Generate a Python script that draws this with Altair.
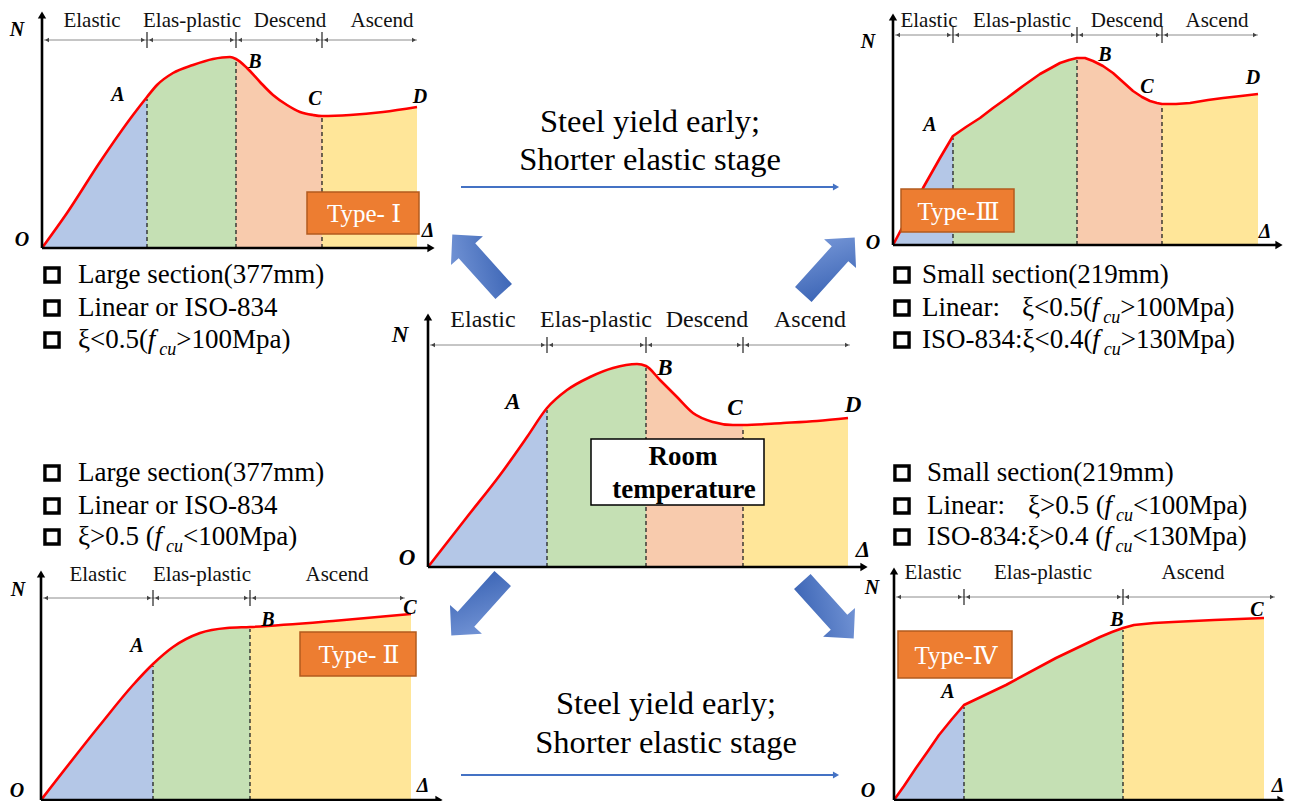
import altair as alt
import pandas as pd

FONT = "'Liberation Serif', 'Times New Roman', Times, 'DejaVu Serif', serif"
STAGES = ["Elastic", "Elas-plastic", "Descend", "Ascend"]
STAGE_COLORS = ["#B4C7E7", "#C5E0B4", "#F8CBAD", "#FFE699"]

# ---------------- values ----------------
# load–displacement curves in panel-local units (displacement to the right, load upward)
typeI_disp = [0, 25, 58, 91, 105, 115, 131, 151, 171, 188, 194, 205, 218, 231, 245, 258, 271, 280, 308, 341, 375]
typeI_load = [0, 35, 86, 133, 151, 163, 175, 183, 189, 191, 189, 180, 166, 153, 143, 136, 133, 132, 133, 136, 141]
typeI_bounds = [0, 105, 194, 280, 375]
typeI_stages = ["Elastic", "Elas-plastic", "Descend", "Ascend"]

typeIII_disp = [0, 9, 20, 30, 47, 60, 73, 87, 100, 114, 130, 147, 158, 167, 176, 184, 192, 200, 210, 220, 230,
                240, 249, 257, 264, 269, 283, 297, 315, 330, 348, 365]
typeIII_load = [0, 17, 38, 57, 87, 109, 118, 127, 137, 147, 159, 171, 177, 182, 185, 187, 187, 184, 179, 172, 163,
                154, 148, 144, 142, 141, 141, 142, 145, 147, 149, 151]
typeIII_bounds = [0, 60, 184, 269, 365]
typeIII_stages = ["Elastic", "Elas-plastic", "Descend", "Ascend"]

room_disp = [0, 39, 72, 99, 119, 139, 162, 185, 209, 218, 232, 249, 265, 285, 305, 315, 355, 389, 420]
room_load = [0, 50, 92, 130, 159, 177, 190, 199, 203, 201, 187, 170, 154, 145, 142, 142, 144, 146, 149]
room_bounds = [0, 119, 218, 315, 420]
room_stages = ["Elastic", "Elas-plastic", "Descend", "Ascend"]

typeII_disp = [0, 59, 92, 112, 132, 159, 186, 209, 292, 370]
typeII_load = [0, 75, 115, 136, 153, 167, 172, 173, 179, 186]
typeII_bounds = [0, 112, 209, 370]
typeII_stages = ["Elastic", "Elas-plastic", "Ascend"]

typeIV_disp = [0, 10, 22, 34, 45, 58, 70, 112, 162, 206, 218, 229, 240, 260, 279, 320, 370]
typeIV_load = [0, 14, 32, 49, 65, 81, 95, 115, 142, 163, 168, 172, 175, 177, 178, 180, 182]
typeIV_bounds = [0, 70, 229, 370]
typeIV_stages = ["Elastic", "Elas-plastic", "Ascend"]

point_names4 = ["N", "O", "Δ", "A", "B", "C", "D"]
point_names3 = ["N", "O", "Δ", "A", "B", "C"]

type_labels = ["Type- Ⅰ", "Type-Ⅲ", "Type- Ⅱ", "Type-Ⅳ"]
room_label = ["Room", "temperature"]
transition_text = ["Steel yield early;", "Shorter elastic stage"]

# list lines: segments (text, kind) with kind n=normal, i=italic, s=italic subscript, t=tab jump
list_large_a = [[("Large section(377mm)", "n")], [("Linear or ISO-834", "n")],
                [("ξ<0.5(", "n"), ("f", "i"), ("cu", "s"), (">100Mpa)", "n")]]
list_large_b = [[("Large section(377mm)", "n")], [("Linear or ISO-834", "n")],
                [("ξ>0.5 (", "n"), ("f", "i"), ("cu", "s"), ("<100Mpa)", "n")]]
list_small_a = [[("Small section(219mm)", "n")],
                [("Linear:", "n"), ("ξ<0.5(", "t"), ("f", "i"), ("cu", "s"), (">100Mpa)", "n")],
                [("ISO-834:ξ<0.4(", "n"), ("f", "i"), ("cu", "s"), (">130Mpa)", "n")]]
list_small_b = [[("Small section(219mm)", "n")],
                [("Linear:", "n"), ("ξ>0.5 (", "t"), ("f", "i"), ("cu", "s"), ("<100Mpa)", "n")],
                [("ISO-834:ξ>0.4 (", "n"), ("f", "i"), ("cu", "s"), ("<130Mpa)", "n")]]

# ---------------- layout (page pixels) ----------------
PANELS = [
    dict(name="I", disp=typeI_disp, load=typeI_load, bounds=typeI_bounds, stages=typeI_stages,
         origin=(42, 248), top=11, right=435, bar_y=40, bar_end=417, interp="monotone",
         label_x=[92, 192, 290, 382], label_y=21, fs=21, pfs=20, pnames=point_names4,
         pxy=[(17, 30), (22, 240), (428, 231), (118, 95), (255, 62), (315, 99), (420, 97)]),
    dict(name="III", disp=typeIII_disp, load=typeIII_load, bounds=typeIII_bounds, stages=typeIII_stages,
         origin=(893, 245), top=13, right=1283, bar_y=35, bar_end=1258, interp="linear",
         label_x=[929, 1022, 1127, 1217], label_y=21, fs=21, pfs=20, pnames=point_names4,
         pxy=[(868, 42), (873, 243), (1265, 232), (930, 125), (1105, 55), (1147, 87), (1253, 78)]),
    dict(name="R", disp=room_disp, load=room_load, bounds=room_bounds, stages=room_stages,
         origin=(428, 567), top=313, right=868, bar_y=345, bar_end=850, interp="monotone",
         label_x=[483, 596, 707, 810], label_y=320, fs=24, pfs=23, pnames=point_names4,
         pxy=[(400, 335), (407, 558), (863, 550), (513, 402), (665, 368), (735, 408), (853, 405)]),
    dict(name="II", disp=typeII_disp, load=typeII_load, bounds=typeII_bounds, stages=typeII_stages,
         origin=(41, 800), top=570, right=443, bar_y=598, bar_end=405, interp="monotone",
         label_x=[98, 202, 337], label_y=575, fs=21, pfs=20, pnames=point_names3,
         pxy=[(18, 590), (17, 791), (423, 786), (137, 646), (268, 620), (410, 608)]),
    dict(name="IV", disp=typeIV_disp, load=typeIV_load, bounds=typeIV_bounds, stages=typeIV_stages,
         origin=(894, 800), top=567, right=1285, bar_y=597, bar_end=1275, interp="linear",
         label_x=[933, 1043, 1193], label_y=573, fs=21, pfs=20, pnames=point_names3,
         pxy=[(872, 588), (868, 791), (1278, 786), (948, 692), (1117, 620), (1257, 610)]),
]

TYPE_BOXES = [(307, 419, 192, 234), (901, 1014, 189, 232), (300, 416, 632, 676), (898, 1012, 631, 678)]
ROOM_BOX = (591, 764, 439, 505)
ROOM_TEXT_XY = [(683, 457), (684, 490)]

# list blocks: (lines, text x, check-box x, baselines, tab x for 2nd line)
LIST_BLOCKS = [
    (list_large_a, 78, 52, [283, 316, 348], None),
    (list_large_b, 78, 52, [481, 514, 545], None),
    (list_small_a, 922, 902, [283, 316, 348], 1022),
    (list_small_b, 927, 902, [481, 514, 545], 1028),
]
LIST_FS, SUB_FS = 27, 18

# approximate Times advance widths (1/1000 em) used to place text segments
ADV = {' ': 250, '(': 333, ')': 333, '.': 250, ':': 278, '<': 564, '>': 564, '-': 333, 'ξ': 440,
       'M': 889, 'p': 500, 'a': 444, 'I': 333, 'S': 556, 'O': 722, 'L': 611, 'i': 278, 'n': 500,
       'e': 444, 'r': 333, 'f': 278, 'c': 444, 'u': 500, 'o': 500}


def adv(s, fs):
    return sum(ADV.get(ch, 500) for ch in s) * fs / 1000.0


TRANS = [dict(cx=650, y1=132, y2=170, ly=187), dict(cx=666, y1=714, y2=753, ly=775)]
TRANS_X = (461, 840)

# block arrows: centre, angle (clockwise from up)
BLOCKS = [(478, 263, 318), (829, 266, 42), (477, 607, 222), (828, 610, 138)]

# ---------------- build tables ----------------
curve_rows, area_rows, dash_rows, axis_rows, head_rows = [], [], [], [], []
bar_rows, tick_rows, small_head_rows, stage_lab_rows, pt_rows = [], [], [], [], []
for p in PANELS:
    ox, oy = p["origin"]
    for i, (d, n) in enumerate(zip(p["disp"], p["load"])):
        curve_rows.append(dict(panel=p["name"], interp=p["interp"], i=i, x=ox + d, y=oy - n))
    b = p["bounds"]
    for k, st in enumerate(p["stages"]):
        for d, n in zip(p["disp"], p["load"]):
            if b[k] <= d <= b[k + 1]:
                area_rows.append(dict(key=f'{p["name"]}{k}', interp=p["interp"], stage=st,
                                      x=ox + d, y=oy - n, y0=oy))
    for bb in b[1:-1]:
        n = p["load"][p["disp"].index(bb)]
        dash_rows.append(dict(x=ox + bb, y=oy, x2=ox + bb, y2=oy - n + 2))
    axis_rows.append(dict(x=ox, y=oy, x2=ox, y2=p["top"] + 4))
    axis_rows.append(dict(x=ox, y=oy, x2=p["right"] - 4, y2=oy))
    head_rows.append(dict(x=ox, y=p["top"] + 4, shape="triangle-up"))
    head_rows.append(dict(x=p["right"] - 4, y=oy, shape="triangle-right"))
    by = p["bar_y"]
    bar_rows.append(dict(x=ox + 2, y=by, x2=p["bar_end"], y2=by))
    small_head_rows.append(dict(x=ox + 5, y=by, shape="triangle-left"))
    small_head_rows.append(dict(x=p["bar_end"] - 3, y=by, shape="triangle-right"))
    for bb in b[1:-1]:
        t = ox + bb
        tick_rows.append(dict(x=t, y=by - 8, x2=t, y2=by + 8))
        small_head_rows.append(dict(x=t - 4, y=by, shape="triangle-right"))
        small_head_rows.append(dict(x=t + 4, y=by, shape="triangle-left"))
    for st, lx in zip(p["stages"], p["label_x"]):
        stage_lab_rows.append(dict(t=st, x=lx, y=p["label_y"], fs=p["fs"]))
    for nm, (px, py) in zip(p["pnames"], p["pxy"]):
        pt_rows.append(dict(t=nm, x=px, y=py, fs=p["pfs"]))

# list text segments
list_rows, check_rows = [], []
for lines, tx, cx, ys, tab in LIST_BLOCKS:
    for line, by in zip(lines, ys):
        check_rows.append(dict(x=cx, y=by - 8))
        x = tx
        for txt, kind in line:
            if kind == "t":
                x = tab
                kind = "n"
            if kind == "s":
                list_rows.append(dict(t=txt, kind=kind, x=x, y=by + 7))
                x += adv(txt, SUB_FS)
            elif kind == "i":
                list_rows.append(dict(t=txt, kind=kind, x=x, y=by))
                x += adv(txt, LIST_FS) + 4
            else:
                list_rows.append(dict(t=txt, kind=kind, x=x, y=by))
                x += adv(txt, LIST_FS)

XS = alt.Scale(domain=[8, 1287], nice=False, zero=False)
YS = alt.Scale(domain=[8, 801], reverse=True, nice=False, zero=False)


def X(f="x"):
    return alt.X(f"{f}:Q", scale=XS, axis=None)


def Y(f="y"):
    return alt.Y(f"{f}:Q", scale=YS, axis=None, stack=None)


def rules(rows, **mk):
    return alt.Chart(pd.DataFrame(rows)).mark_rule(**mk).encode(
        x=X(), y=Y(), x2=alt.X2("x2:Q"), y2=alt.Y2("y2:Q"))


def texts(rows, size, weight="normal", style="normal", color="black", align="center", baseline="middle"):
    return alt.Chart(pd.DataFrame(rows)).mark_text(
        font=FONT, fontSize=size, fontWeight=weight, fontStyle=style, color=color,
        align=align, baseline=baseline).encode(x=X(), y=Y(), text="t:N")


layers = []
area_df = pd.DataFrame(area_rows)
curve_df = pd.DataFrame(curve_rows)
for interp in ["monotone", "linear"]:
    layers.append(alt.Chart(area_df[area_df.interp == interp]).mark_area(interpolate=interp, opacity=1).encode(
        x=X(), y=Y(), y2=alt.Y2("y0:Q"),
        color=alt.Color("stage:N", scale=alt.Scale(domain=STAGES, range=STAGE_COLORS), legend=None),
        detail="key:N"))
# dashed dividers
layers.append(rules(dash_rows, color="#222222", strokeWidth=1.3, strokeDash=[4, 3]))
# curves
for interp in ["monotone", "linear"]:
    layers.append(alt.Chart(curve_df[curve_df.interp == interp]).mark_line(
        color="#FF0000", strokeWidth=2.6, interpolate=interp, strokeJoin="round").encode(
        x=X(), y=Y(), detail="panel:N", order="i:Q"))
# axes
layers.append(rules(axis_rows, color="black", strokeWidth=2.6))
layers.append(alt.Chart(pd.DataFrame(head_rows)).mark_point(
    filled=True, color="black", size=70, opacity=1).encode(
    x=X(), y=Y(), shape=alt.Shape("shape:N", scale=None)))
# stage bars
layers.append(rules(bar_rows, color="#8C8C8C", strokeWidth=1))
layers.append(rules(tick_rows, color="#222222", strokeWidth=1.2))
layers.append(alt.Chart(pd.DataFrame(small_head_rows)).mark_point(
    filled=True, color="#444444", size=22, opacity=1).encode(
    x=X(), y=Y(), shape=alt.Shape("shape:N", scale=None)))

# stage labels
for fs in sorted(set(r["fs"] for r in stage_lab_rows)):
    layers.append(texts([r for r in stage_lab_rows if r["fs"] == fs], fs, color="#111111"))
# point labels
for fs in sorted(set(r["fs"] for r in pt_rows)):
    layers.append(texts([r for r in pt_rows if r["fs"] == fs], fs, weight="bold", style="italic"))

# type boxes
box_rows = [dict(x=a, x2=b, y=c, y2=d) for (a, b, c, d) in TYPE_BOXES]
layers.append(alt.Chart(pd.DataFrame(box_rows)).mark_rect(
    fill="#ED7D31", stroke="#B25B1E", strokeWidth=1.5).encode(
    x=X(), x2=alt.X2("x2:Q"), y=Y(), y2=alt.Y2("y2:Q")))
type_rows = [dict(t=t, x=(a + b) / 2 + 1, y=(c + d) / 2 + 1) for t, (a, b, c, d) in zip(type_labels, TYPE_BOXES)]
layers.append(texts(type_rows, 25, color="white"))

# room temperature box
rx1, rx2, ry1, ry2 = ROOM_BOX
layers.append(alt.Chart(pd.DataFrame([dict(x=rx1, x2=rx2, y=ry1, y2=ry2)])).mark_rect(
    fill="white", stroke="black", strokeWidth=1.5).encode(
    x=X(), x2=alt.X2("x2:Q"), y=Y(), y2=alt.Y2("y2:Q")))
layers.append(texts([dict(t=t, x=x, y=y) for t, (x, y) in zip(room_label, ROOM_TEXT_XY)], 27, weight="bold"))

# check boxes
layers.append(alt.Chart(pd.DataFrame(check_rows)).mark_point(
    shape="square", filled=False, fill="white", stroke="black", strokeWidth=3.4, size=200, opacity=1).encode(
    x=X(), y=Y()))
# list texts
for kind, size, style in [("n", LIST_FS, "normal"), ("i", LIST_FS, "italic"), ("s", SUB_FS, "italic")]:
    rows = [r for r in list_rows if r["kind"] == kind]
    layers.append(texts(rows, size, style=style, align="left", baseline="alphabetic"))

# transition texts and blue arrows
trans_rows = []
tline_rows, thead_rows = [], []
for tr in TRANS:
    trans_rows.append(dict(t=transition_text[0], x=tr["cx"], y=tr["y1"]))
    trans_rows.append(dict(t=transition_text[1], x=tr["cx"], y=tr["y2"]))
    tline_rows.append(dict(x=TRANS_X[0], y=tr["ly"], x2=TRANS_X[1] - 6, y2=tr["ly"]))
    thead_rows.append(dict(x=TRANS_X[1] - 4, y=tr["ly"]))
layers.append(texts(trans_rows, 32.5, baseline="alphabetic"))
layers.append(rules(tline_rows, color="#4472C4", strokeWidth=2))
layers.append(alt.Chart(pd.DataFrame(thead_rows)).mark_point(
    shape="triangle-right", filled=True, color="#4472C4", size=50, opacity=1).encode(x=X(), y=Y()))

# block arrows
ARROW_PATH = "M0,-1 L0.56,-0.43 L0.29,-0.43 L0.29,1 L-0.29,1 L-0.29,-0.43 L-0.56,-0.43 Z"
blk = pd.DataFrame([dict(x=x, y=y, ang=a) for x, y, a in BLOCKS])
layers.append(alt.Chart(blk).mark_point(
    shape=ARROW_PATH, filled=True, size=5900, opacity=1, strokeWidth=0,
    fill={"gradient": "linear", "x1": 0, "y1": 0, "x2": 1, "y2": 1,
          "stops": [{"offset": 0, "color": "#7B9BDA"}, {"offset": 1, "color": "#3660B2"}]}).encode(
    x=X(), y=Y(), angle=alt.Angle("ang:Q", scale=None)))

chart = alt.layer(*layers).properties(
    width=1279, height=793, padding=0, autosize="none", background="white"
).configure_view(stroke=None)

chart.save("out.html", embed_options={"renderer": "svg", "actions": False})
